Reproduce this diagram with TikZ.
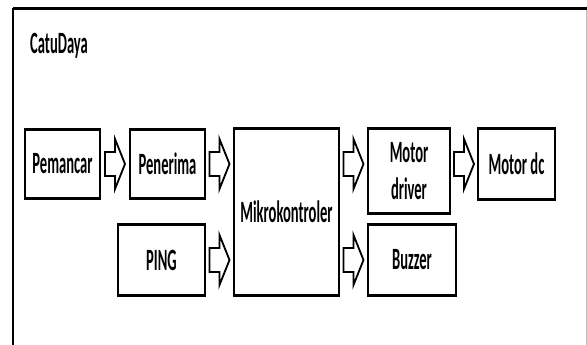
\documentclass[tikz,border=0pt]{standalone}
\usepackage{fontspec}
\setmainfont[FakeStretch=0.47]{Carlito}
\usetikzlibrary{positioning,calc}

\begin{document}
\begin{tikzpicture}[
    x=1pt,y=-1pt,
    blok/.style  = {draw, line width=1.2pt, align=center, inner sep=0pt,
                    font=\fontsize{31}{37}\selectfont\bfseries},
    tebal/.style = {line width=2.6pt},
    judul/.style = {font=\fontsize{31}{36}\selectfont\bfseries, anchor=west,
                    inner sep=0pt},
  ]

  \tikzset{panah/.pic={
      \draw[line width=1.8pt,fill=white] (-10,-12) -- (0,-12) -- (0,-25)
           -- (10,0) -- (0,25) -- (0,12) -- (-10,12) -- cycle;}}

  \useasboundingbox (0,0) rectangle (587,345);

  % bingkai catu daya
  \draw[line width=3pt] (13,9) -- (587,9);
  \draw[line width=2pt] (13,8) -- (13,345);
  \draw[black!25,line width=0.8pt] (586,10) -- (586,345);
  \node[judul] (catu) at (30,46) {CatuDaya};

  \node[blok,minimum width=75,minimum height=68]  (pem) at (62.5,164) {Pemancar};
  \node[blok,minimum width=75,minimum height=68]  (pen) at (167.5,164) {Penerima};
  \node[blok,minimum width=87,minimum height=70]  (png) at (161.5,260) {PING};
  \node[blok,minimum width=105,minimum height=166] (mk) at (286.5,212) {Mikrokontroler};
  \node[blok,minimum width=82,minimum height=84]  (drv) at (409,171) {Motor\\driver};
  \node[blok,minimum width=77,minimum height=70]  (dc) at (516.5,164) {Motor dc};
  \node[blok,minimum width=88,minimum height=70]  (buz) at (412,260) {Buzzer};

  \foreach \b in {pem,pen,png,mk,drv,dc,buz}
    \draw[tebal] (\b.north west) -- (\b.north east)
                 (\b.south west) -- (\b.south east);

  \pic at ($(pem.east)!0.5!(pen.west)$) {panah};
  \pic at ($(pen.east)!0.5!(mk.west |- pen)$) {panah};
  \pic at ($(png.east)!0.5!(mk.west |- png)$) {panah};
  \pic at ($(mk.east |- pen)!0.5!(drv.west |- pen)$) {panah};
  \pic at ($(mk.east |- buz)!0.5!(buz.west)$) {panah};
  \pic at ($(drv.east |- dc)!0.5!(dc.west)$) {panah};

\end{tikzpicture}
\end{document}
